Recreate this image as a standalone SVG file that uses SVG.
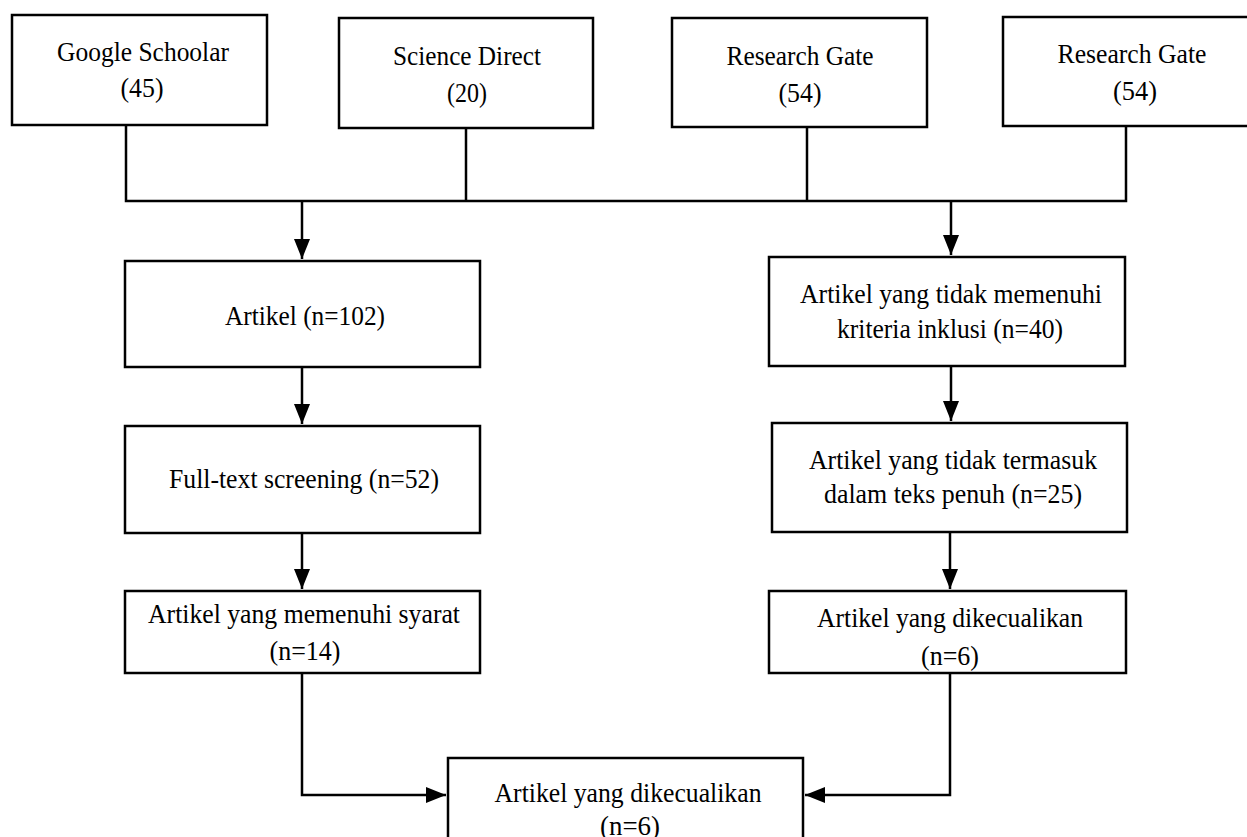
<svg xmlns="http://www.w3.org/2000/svg" width="1247" height="837" viewBox="0 0 1247 837">
<style>
.box{fill:#fff;stroke:#000;stroke-width:2.5}
.t{font-family:"Liberation Serif","Times New Roman",serif;font-size:28px;fill:#000;text-anchor:middle}
.c{fill:none;stroke:#000;stroke-width:2.5}
</style>
<defs>
<marker id="ah" markerUnits="userSpaceOnUse" markerWidth="20" markerHeight="18" refX="20" refY="9" orient="auto">
<path d="M0,1 L20,9 L0,17 Z" fill="#000"/>
</marker>
</defs>
<rect width="1247" height="837" fill="#fff"/>
<g id="connectors">
<path class="c" d="M126,125 V201 H1126 V126"/>
<path class="c" d="M466,128 V201"/>
<path class="c" d="M807,127 V201"/>
<path class="c" d="M302,201 V259" marker-end="url(#ah)"/>
<path class="c" d="M951,201 V255" marker-end="url(#ah)"/>
<path class="c" d="M302,367 V424" marker-end="url(#ah)"/>
<path class="c" d="M951,366 V421" marker-end="url(#ah)"/>
<path class="c" d="M302,533 V589" marker-end="url(#ah)"/>
<path class="c" d="M950,532 V589" marker-end="url(#ah)"/>
<path class="c" d="M302,673 V795 H446" marker-end="url(#ah)"/>
<path class="c" d="M950,673 V795 H805" marker-end="url(#ah)"/>
</g>
<g id="google">
<rect class="box" x="12" y="15" width="255" height="110"/>
<text class="t" x="143" y="61" textLength="172" lengthAdjust="spacingAndGlyphs">Google Schoolar</text>
<text class="t" x="142" y="97" textLength="43" lengthAdjust="spacingAndGlyphs">(45)</text>
</g>
<g id="science">
<rect class="box" x="339" y="18" width="254" height="110"/>
<text class="t" x="467" y="65" textLength="148" lengthAdjust="spacingAndGlyphs">Science Direct</text>
<text class="t" x="467" y="102" textLength="40" lengthAdjust="spacingAndGlyphs">(20)</text>
</g>
<g id="research1">
<rect class="box" x="672" y="18" width="255" height="109"/>
<text class="t" x="800" y="65" textLength="147" lengthAdjust="spacingAndGlyphs">Research Gate</text>
<text class="t" x="800" y="102" textLength="43" lengthAdjust="spacingAndGlyphs">(54)</text>
</g>
<g id="research2">
<rect class="box" x="1003" y="17" width="262" height="109"/>
<text class="t" x="1132" y="63" textLength="149" lengthAdjust="spacingAndGlyphs">Research Gate</text>
<text class="t" x="1135" y="100" textLength="44" lengthAdjust="spacingAndGlyphs">(54)</text>
</g>
<g id="artikel">
<rect class="box" x="125" y="261" width="355" height="106"/>
<text class="t" x="305" y="325" textLength="160" lengthAdjust="spacingAndGlyphs">Artikel (n=102)</text>
</g>
<g id="fulltext">
<rect class="box" x="125" y="426" width="355" height="107"/>
<text class="t" x="304" y="488" textLength="270" lengthAdjust="spacingAndGlyphs">Full-text screening (n=52)</text>
</g>
<g id="memenuhi">
<rect class="box" x="125" y="591" width="355" height="82"/>
<text class="t" x="304" y="623" textLength="312" lengthAdjust="spacingAndGlyphs">Artikel yang memenuhi syarat</text>
<text class="t" x="305" y="660" textLength="71" lengthAdjust="spacingAndGlyphs">(n=14)</text>
</g>
<g id="tidak-memenuhi">
<rect class="box" x="769" y="257" width="356" height="109"/>
<text class="t" x="951" y="303" textLength="302" lengthAdjust="spacingAndGlyphs">Artikel yang tidak memenuhi</text>
<text class="t" x="950" y="338" textLength="226" lengthAdjust="spacingAndGlyphs">kriteria inklusi (n=40)</text>
</g>
<g id="tidak-termasuk">
<rect class="box" x="772" y="423" width="355" height="109"/>
<text class="t" x="953" y="469" textLength="288" lengthAdjust="spacingAndGlyphs">Artikel yang tidak termasuk</text>
<text class="t" x="953" y="503" textLength="258" lengthAdjust="spacingAndGlyphs">dalam teks penuh (n=25)</text>
</g>
<g id="dikecualikan-kanan">
<rect class="box" x="769" y="591" width="357" height="82"/>
<text class="t" x="950" y="627" textLength="266" lengthAdjust="spacingAndGlyphs">Artikel yang dikecualikan</text>
<text class="t" x="950" y="665" textLength="58" lengthAdjust="spacingAndGlyphs">(n=6)</text>
</g>
<g id="dikecualikan-akhir">
<rect class="box" x="448" y="758" width="355" height="100"/>
<text class="t" x="628" y="802" textLength="267" lengthAdjust="spacingAndGlyphs">Artikel yang dikecualikan</text>
<text class="t" x="630" y="835" textLength="60" lengthAdjust="spacingAndGlyphs">(n=6)</text>
</g>
</svg>
